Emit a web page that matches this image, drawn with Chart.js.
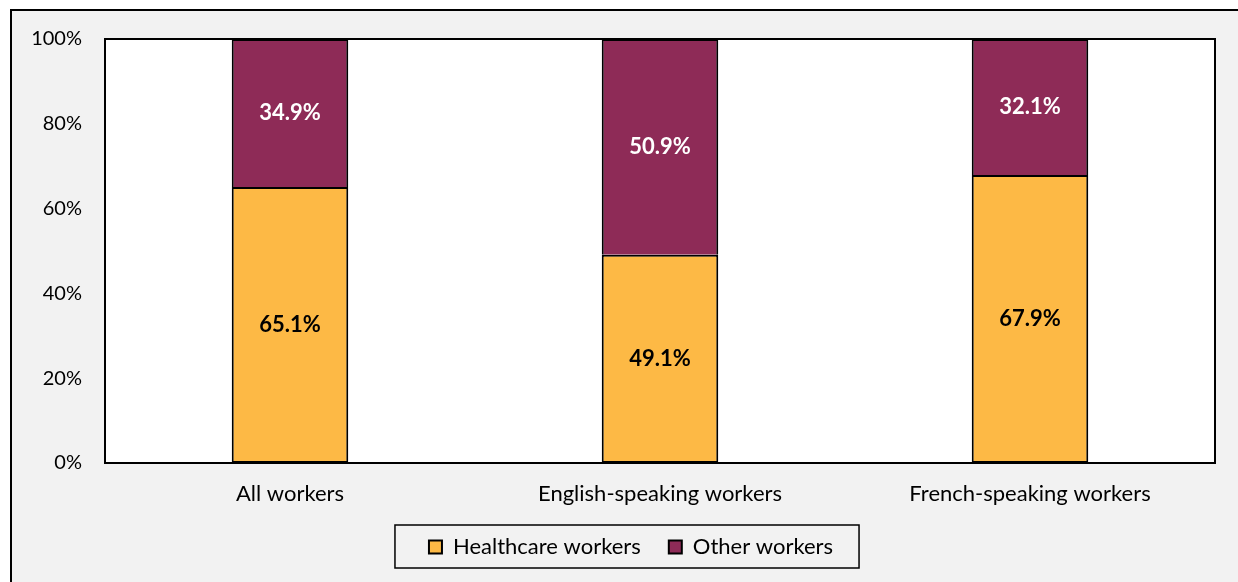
<!DOCTYPE html>
<html>
<head>
<meta charset="utf-8">
<script src="https://cdn.jsdelivr.net/npm/chart.js@4"></script>
<style>
  html, body { margin: 0; padding: 0; background: #ffffff; }
  #wrap { position: relative; width: 1238px; height: 582px; }
</style>
</head>
<body>
<div id="wrap"><canvas id="chart" width="1238" height="582"></canvas></div>
<script>
// Données
const categories = ['All workers', 'English-speaking workers', 'French-speaking workers'];
const healthcare = [65.1, 49.1, 67.9];
const other = [34.9, 50.9, 32.1];
const yTicks = [0, 20, 40, 60, 80, 100];

const FONT = 'Lato';

// Fond gris, cadre et zone du graphique
const framePlugin = {
    id: 'frame',
    afterLayout(chart) {
        // décaler la légende un peu vers la droite
        chart.legend.left += 18;
        chart.legend.right += 18;
    },
    beforeDraw(chart) {
        const ctx = chart.ctx;
        const a = chart.chartArea;
        ctx.save();
        ctx.fillStyle = '#ffffff';
        ctx.fillRect(0, 0, chart.width, chart.height);
        ctx.fillStyle = '#f2f2f2';
        ctx.fillRect(11, 10, chart.width - 11, chart.height - 10);
        ctx.strokeStyle = '#000000';
        ctx.lineWidth = 2;
        ctx.beginPath();
        ctx.moveTo(11, chart.height);
        ctx.lineTo(11, 10);
        ctx.lineTo(chart.width, 10);
        ctx.stroke();
        ctx.fillStyle = '#ffffff';
        ctx.fillRect(a.left, a.top, a.right - a.left, a.bottom - a.top);
        ctx.restore();
    },
    afterDraw(chart) {
        const ctx = chart.ctx;
        const a = chart.chartArea;
        ctx.save();
        ctx.strokeStyle = '#000000';
        ctx.lineWidth = 2;
        ctx.strokeRect(a.left, a.top, a.right - a.left, a.bottom - a.top);

        // Cadre de la légende
        const boxes = chart.legend.legendHitBoxes;
        if (boxes && boxes.length) {
            const left = Math.min(...boxes.map(b => b.left));
            const right = Math.max(...boxes.map(b => b.left + b.width));
            const cy = boxes[0].top + boxes[0].height / 2;
            ctx.lineWidth = 1.5;
            ctx.strokeRect(left - 34, cy - 22, right - left + 60, 43);
        }
        ctx.restore();
    }
};

// Étiquettes des valeurs au centre des segments
const labelPlugin = {
    id: 'segLabels',
    afterDatasetsDraw(chart) {
        const ctx = chart.ctx;
        ctx.save();
        ctx.font = `bold 22px ${FONT}`;
        ctx.textAlign = 'center';
        ctx.textBaseline = 'middle';
        chart.data.datasets.forEach((ds, di) => {
            const meta = chart.getDatasetMeta(di);
            meta.data.forEach((bar, i) => {
                const y = (bar.y + bar.base) / 2;
                ctx.fillStyle = di === 0 ? '#000000' : '#ffffff';
                ctx.fillText(ds.data[i].toFixed(1) + '%', bar.x, y);
            });
        });
        ctx.restore();
    }
};

const ctx = document.getElementById('chart').getContext('2d');
new Chart(ctx, {
    type: 'bar',
    data: {
        labels: categories,
        datasets: [
            {
                label: 'Healthcare workers',
                data: healthcare,
                backgroundColor: '#fdb945',
                borderColor: '#000000',
                borderWidth: 2,
                borderSkipped: false
            },
            {
                label: 'Other workers',
                data: other,
                backgroundColor: '#8e2b57',
                borderColor: '#000000',
                borderWidth: 2,
                borderSkipped: 'start'
            }
        ]
    },
    options: {
        responsive: false,
        animation: false,
        devicePixelRatio: 1,
        layout: { padding: { left: 11, top: 39, right: 23, bottom: 14 } },
        datasets: { bar: { barPercentage: 0.315, categoryPercentage: 1 } },
        plugins: {
            legend: {
                display: true,
                position: 'bottom',
                labels: {
                    boxWidth: 13,
                    boxHeight: 13,
                    padding: 28,
                    color: '#000000',
                    font: { family: FONT, size: 22 },
                    useBorderRadius: false
                }
            },
            tooltip: { enabled: false }
        },
        scales: {
            x: {
                stacked: true,
                grid: { display: false, drawTicks: false },
                border: { display: true, color: '#000000', width: 2 },
                ticks: {
                    color: '#000000',
                    padding: 18,
                    font: { family: FONT, size: 22 }
                },
                afterFit: (s) => { s.height = 45; }
            },
            y: {
                stacked: true,
                min: 0,
                max: 100,
                grid: { display: false, drawTicks: false },
                border: { display: true, color: '#000000', width: 2 },
                afterBuildTicks: (s) => { s.ticks = yTicks.map(v => ({ value: v })); },
                ticks: {
                    color: '#000000',
                    padding: 23,
                    font: { family: FONT, size: 20 },
                    callback: (v) => v + '%'
                },
                afterFit: (s) => { s.width = 94; }
            }
        }
    },
    plugins: [framePlugin, labelPlugin]
});
</script>
</body>
</html>
